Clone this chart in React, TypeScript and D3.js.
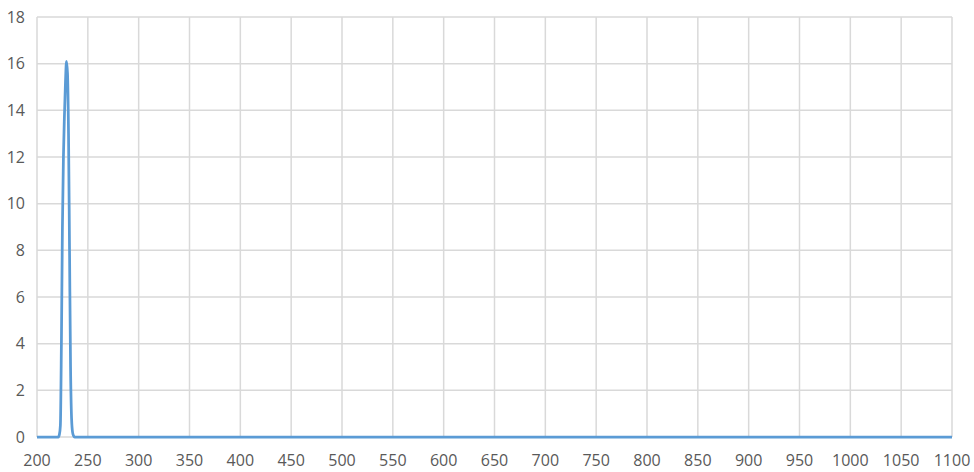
import React from "react";
import * as d3 from "d3";

const wavelengths = [200, 221, 222, 223, 224, 225, 226, 227, 228, 229, 230, 231, 232, 233, 234, 235, 236, 237, 1100];
const values = [0, 0, 0.1, 0.5, 4, 9, 12, 13.8, 15.2, 16.1, 15.6, 13, 8, 3, 0.8, 0.2, 0.05, 0, 0];
const xTicks = [200, 250, 300, 350, 400, 450, 500, 550, 600, 650, 700, 750, 800, 850, 900, 950, 1000, 1050, 1100];
const yTicks = [0, 2, 4, 6, 8, 10, 12, 14, 16, 18];

const W = 974;
const H = 472;
const M = { left: 37, right: 22, top: 17, bottom: 35 };

export default function App() {
  const x = d3.scaleLinear().domain([200, 1100]).range([M.left, W - M.right]);
  const y = d3.scaleLinear().domain([0, 18]).range([H - M.bottom, M.top]);
  const pts: [number, number][] = wavelengths.map((w, i) => [w, values[i]]);
  const line = d3
    .line<[number, number]>()
    .x((d) => x(d[0]))
    .y((d) => y(d[1]))
    .curve(d3.curveMonotoneX);
  const font = "'Open Sans', 'Liberation Sans', sans-serif";
  return (
    <svg
      width={W}
      height={H}
      style={{ position: "absolute", left: 0, top: 0, background: "#fff" }}
    >
      <rect width={W} height={H} fill="#fff" />
      {yTicks.map((t) => (
        <line key={"gy" + t} x1={x(200)} x2={x(1100)} y1={y(t)} y2={y(t)} stroke="#d9d9d9" strokeWidth={1.5} />
      ))}
      {xTicks.map((t) => (
        <line key={"gx" + t} x1={x(t)} x2={x(t)} y1={y(0)} y2={y(18)} stroke="#d9d9d9" strokeWidth={1.5} />
      ))}
      <path d={line(pts) || ""} fill="none" stroke="#5b9bd5" strokeWidth={2.75} strokeLinejoin="round" />
      {yTicks.map((t) => (
        <text key={"ty" + t} x={25} y={y(t)} dy="0.36em" textAnchor="end" fontFamily={font} fontSize={16} fill="#595959">
          {t}
        </text>
      ))}
      {xTicks.map((t) => (
        <text key={"tx" + t} x={x(t)} y={466} textAnchor="middle" fontFamily={font} fontSize={16} fill="#595959">
          {t}
        </text>
      ))}
    </svg>
  );
}
